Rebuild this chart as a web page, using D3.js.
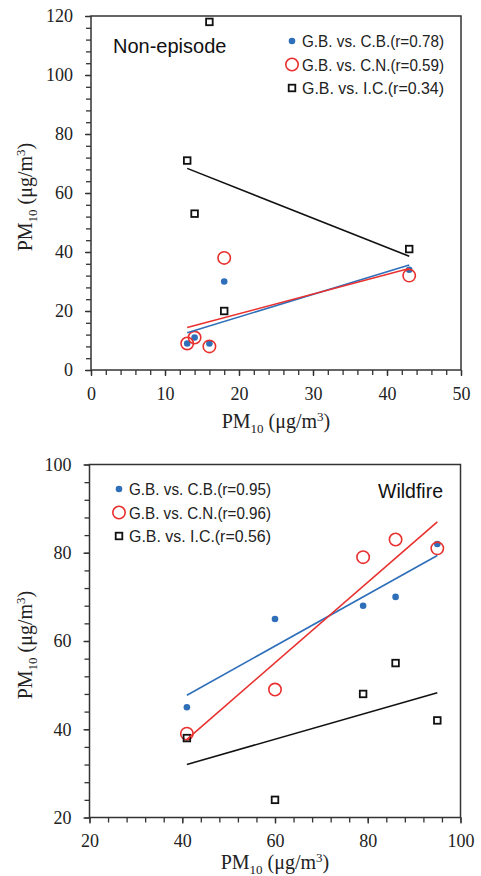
<!DOCTYPE html>
<html>
<head>
<meta charset="utf-8">
<script src="https://cdn.jsdelivr.net/npm/d3@7"></script>
<style>
  body { margin: 0; background: #fff; }
  svg { display: block; }
</style>
</head>
<body>
<div id="chart"></div>
<script>
// data
var seriesNames = ["G.B. vs. C.B.", "G.B. vs. C.N.", "G.B. vs. I.C."];

var nonEpX  = [13, 14, 16, 18, 43];
var nonEpCB = [9, 11, 9, 30, 34];
var nonEpCN = [9, 11, 8, 38, 32];
var nonEpIC = [71, 53, 118, 20, 41];
var nonEpR  = [0.78, 0.59, 0.34];

var wildX  = [41, 60, 79, 86, 95];
var wildCB = [45, 65, 68, 70, 82];
var wildCN = [39, 49, 79, 83, 81];
var wildIC = [38, 24, 48, 55, 42];
var wildR  = [0.95, 0.96, 0.56];

var blue = "#2f6fba", red = "#e8302e", black = "#111";
var serif = "'Liberation Serif', 'Times New Roman', serif";
var sans = "'Liberation Sans', Arial, sans-serif";

var svg = d3.select("#chart").append("svg")
  .attr("width", 481)
  .attr("height", 876);

drawPanel({
  top: 16, bottom: 370, left: 91, right: 461,
  xDomain: [0, 50], yDomain: [0, 120],
  xTicks: d3.range(0, 51, 10), yTicks: d3.range(0, 121, 20),
  xMinor: d3.range(0, 51, 2), yMinor: d3.range(0, 121, 4),
  xs: nonEpX, ys: [nonEpCB, nonEpCN, nonEpIC], rs: nonEpR,
  label: "Non-episode", labelX: 113, labelY: 53, labelAnchor: "start", labelSize: 20,
  legendX: 292, legendY: 41, titleGap: 58
});

drawPanel({
  top: 464.5, bottom: 817.5, left: 89.5, right: 460.5,
  xDomain: [20, 100], yDomain: [20, 100],
  xTicks: d3.range(20, 101, 20), yTicks: d3.range(20, 101, 20),
  xMinor: d3.range(20, 101, 4), yMinor: d3.range(20, 101, 4),
  xs: wildX, ys: [wildCB, wildCN, wildIC], rs: wildR,
  label: "Wildfire", labelX: 443, labelY: 498, labelAnchor: "end", labelSize: 19.5,
  legendX: 119, legendY: 489, titleGap: 51
});

function fit(xs, ys){
  var mx = d3.mean(xs), my = d3.mean(ys);
  var sxy = d3.sum(xs, (x, i) => (x - mx) * (ys[i] - my));
  var sxx = d3.sum(xs, x => (x - mx) * (x - mx));
  var b = sxy / sxx;
  return x => my + b * (x - mx);
}

function marker(g, k, cx, cy){
  if(k == 0){
    g.append("circle").attr("cx", cx).attr("cy", cy).attr("r", 3.3)
      .attr("fill", blue);
  }else if(k == 1){
    g.append("circle").attr("cx", cx).attr("cy", cy).attr("r", 6.2)
      .attr("fill", "none").attr("stroke", red).attr("stroke-width", 1.6);
  }else{
    g.append("rect").attr("x", cx - 3.3).attr("y", cy - 3.3)
      .attr("width", 6.6).attr("height", 6.6)
      .attr("fill", "none").attr("stroke", black).attr("stroke-width", 1.8);
  }
}

function pmTitle(t){
  t.append("tspan").text("PM");
  t.append("tspan").text("10").attr("font-size", 13).attr("dy", 5);
  t.append("tspan").text(" (μg/m").attr("dy", -5);
  t.append("tspan").text("3").attr("font-size", 13).attr("dy", -7);
  t.append("tspan").text(")").attr("dy", 7);
}

function drawPanel(o){
  var x = d3.scaleLinear().domain(o.xDomain).range([o.left, o.right]);
  var y = d3.scaleLinear().domain(o.yDomain).range([o.bottom, o.top]);
  var g = svg.append("g");

  // minor ticks
  g.append("g")
    .attr("transform", `translate(0,${o.bottom})`)
    .call(d3.axisBottom(x).tickValues(o.xMinor).tickSize(5).tickFormat(""))
    .call(a => a.select(".domain").remove())
    .selectAll("line").attr("stroke", "#333").attr("stroke-width", 1.3);
  g.append("g")
    .attr("transform", `translate(${o.left},0)`)
    .call(d3.axisLeft(y).tickValues(o.yMinor).tickSize(5).tickFormat(""))
    .call(a => a.select(".domain").remove())
    .selectAll("line").attr("stroke", "#333").attr("stroke-width", 1.3);

  // major tick labels
  var xa = g.append("g")
    .attr("transform", `translate(0,${o.bottom})`)
    .call(d3.axisBottom(x).tickValues(o.xTicks).tickSize(6).tickPadding(11));
  xa.select(".domain").remove();
  xa.selectAll("line").attr("stroke", "#333").attr("stroke-width", 1.3);
  xa.selectAll("text").attr("font-family", serif).attr("font-size", 18).attr("fill", "#222");

  var ya = g.append("g")
    .attr("transform", `translate(${o.left},0)`)
    .call(d3.axisLeft(y).tickValues(o.yTicks).tickSize(6).tickPadding(12));
  ya.select(".domain").remove();
  ya.selectAll("line").attr("stroke", "#333").attr("stroke-width", 1.3);
  ya.selectAll("text").attr("font-family", serif).attr("font-size", 18).attr("fill", "#222");

  // frame
  g.append("rect")
    .attr("x", o.left).attr("y", o.top)
    .attr("width", o.right - o.left).attr("height", o.bottom - o.top)
    .attr("fill", "none").attr("stroke", "#333").attr("stroke-width", 1.5);

  // axis titles
  var xt = g.append("text")
    .attr("x", (o.left + o.right) / 2).attr("y", o.bottom + o.titleGap)
    .attr("text-anchor", "middle")
    .attr("font-family", serif).attr("font-size", 20).attr("fill", "#222");
  pmTitle(xt);
  var yt = g.append("text")
    .attr("transform", `translate(32,${(o.top + o.bottom) / 2 + 4}) rotate(-90)`)
    .attr("text-anchor", "middle")
    .attr("font-family", serif).attr("font-size", 20).attr("fill", "#222");
  pmTitle(yt);

  // points
  var colors = [blue, red, black];
  o.ys.forEach(function(ys, k){
    ys.forEach(function(v, i){
      marker(g, k, x(o.xs[i]), y(v));
    });
  });

  // least-squares trend lines
  var ext = d3.extent(o.xs);
  o.ys.forEach(function(ys, k){
    var f = fit(o.xs, ys);
    g.append("line")
      .attr("x1", x(ext[0])).attr("y1", y(f(ext[0])))
      .attr("x2", x(ext[1])).attr("y2", y(f(ext[1])))
      .attr("stroke", colors[k]).attr("stroke-width", 1.6);
  });

  // panel label
  g.append("text")
    .attr("x", o.labelX).attr("y", o.labelY)
    .attr("text-anchor", o.labelAnchor)
    .attr("font-family", sans).attr("font-size", o.labelSize).attr("fill", "#111")
    .text(o.label);

  // legend
  seriesNames.forEach(function(name, k){
    var cy = o.legendY + k * 23.5;
    marker(g, k, o.legendX, cy);
    g.append("text")
      .attr("x", o.legendX + 10).attr("y", cy + 6)
      .attr("font-family", sans).attr("font-size", 16).attr("fill", "#222")
      .attr("textLength", 142).attr("lengthAdjust", "spacingAndGlyphs")
      .text(name + "(r=" + o.rs[k].toFixed(2) + ")");
  });
}
</script>
</body>
</html>
